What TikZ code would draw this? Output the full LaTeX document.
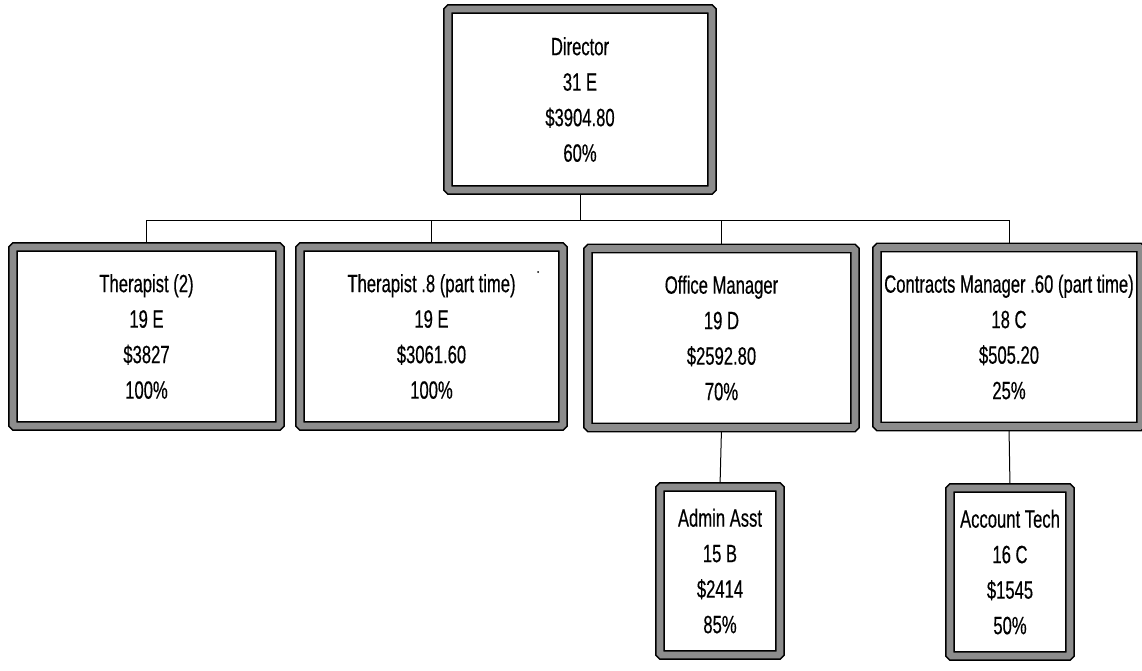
\documentclass[tikz,border=0pt]{standalone}
\usepackage{fontspec}
\setmainfont{Liberation Sans}[FakeStretch=0.665,FakeBold=0.4]
\usetikzlibrary{backgrounds}
\begin{document}
\begin{tikzpicture}[x=1pt,y=-1pt,
  orgbox/.style={rectangle, draw=black, line width=1.6pt, double=black!45,
    double distance=6.6pt, fill=white, rounded corners=1.5pt, inner sep=0pt,
    align=center, font={\fontsize{25}{35.5}\selectfont}},
  link/.style={draw=black, line width=1pt}]
\useasboundingbox (0,0) rectangle (1142,671);
\node[orgbox, minimum width=264pt, minimum height=181pt] (dir) at (580,99.5)
  {Director\\31 E\\\$3904.80\\60\%};
\node[orgbox, minimum width=267pt, minimum height=179pt] (th2) at (146.5,336.5)
  {Therapist (2)\\19 E\\\$3827\\100\%};
\node[orgbox, minimum width=263pt, minimum height=179pt] (th8) at (431.5,336.5)
  {Therapist .8 (part time)\\19 E\\\$3061.60\\100\%};
\node[orgbox, minimum width=267pt, minimum height=179pt] (om) at (721.5,338)
  {Office Manager\\19 D\\\$2592.80\\70\%};
\node[orgbox, minimum width=264pt, minimum height=179pt] (cm) at (1009,337)
  {Contracts Manager .60 (part time)\\18 C\\\$505.20\\25\%};
\node[orgbox, minimum width=120pt, minimum height=168pt] (aa) at (720,571)
  {Admin Asst\\15 B\\\$2414\\85\%};
\node[orgbox, minimum width=120pt, minimum height=168pt] (at) at (1010,572)
  {Account Tech\\16 C\\\$1545\\50\%};
\fill[black] (538,272) circle (1pt);
\coordinate (bus) at (0,220);
\begin{scope}[on background layer]
  \fill[white] (0,0) rectangle (1142,671);
  \draw[link] (dir.south) -- (dir.south |- bus);
  \draw[link] (th2.north) -- (th2.north |- bus) -- (cm.north |- bus) -- (cm.north);
  \draw[link] (th8.north) -- (th8.north |- bus);
  \draw[link] (om.north) -- (om.north |- bus);
  \draw[link] (om.south) -- (aa.north);
  \draw[link] (cm.south) -- (at.north);
\end{scope}
\end{tikzpicture}
\end{document}
